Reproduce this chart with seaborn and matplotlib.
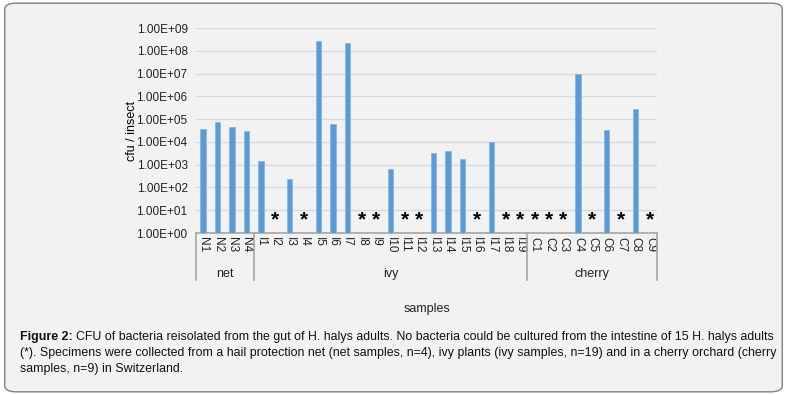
import numpy as np
import pandas as pd
import matplotlib
matplotlib.use("Agg")
import matplotlib.pyplot as plt
import seaborn as sns
from matplotlib.patches import FancyBboxPatch
from matplotlib.ticker import FixedLocator, FuncFormatter

# data (NaN = nothing cultured, marked with *)
net_names = ["N1", "N2", "N3", "N4"]
net_cfu = [3.6e4, 7.6e4, 4.5e4, 3.0e4]

ivy_names = ["I%d" % i for i in range(1, 20)]
ivy_cfu = [1.4e3, np.nan, 2.3e2, np.nan, 2.6e8, 6.4e4, 2.2e8, np.nan, np.nan, 6.8e2,
           np.nan, np.nan, 3.4e3, 4.0e3, 1.7e3, np.nan, 9.8e3, np.nan, np.nan]

cherry_names = ["C%d" % i for i in range(1, 10)]
cherry_cfu = [np.nan, np.nan, np.nan, 9.8e6, np.nan, 3.3e4, np.nan, 2.9e5, np.nan]

groups = ["net", "ivy", "cherry"]

df = pd.DataFrame({
    "sample": net_names + ivy_names + cherry_names,
    "cfu": net_cfu + ivy_cfu + cherry_cfu,
    "group": ["net"] * 4 + ["ivy"] * 19 + ["cherry"] * 9,
})

plt.rcParams["font.family"] = ["Liberation Sans", "DejaVu Sans"]

fig = plt.figure(figsize=(7.87, 3.95), dpi=100, facecolor="white")

# rounded frame behind everything
frame = FancyBboxPatch((0.006, 0.008), 0.988, 0.984, boxstyle="round,pad=0,rounding_size=0.015",
                       transform=fig.transFigure, facecolor="#f2f2f2", edgecolor="#808080",
                       linewidth=1.0, zorder=-5)
fig.patches.append(frame)

ax = fig.add_axes([0.249, 0.410, 0.586, 0.519])
ax.set_zorder(2)
ax.set_facecolor("none")

plot_df = df.fillna(0)
sns.barplot(data=plot_df, x="sample", y="cfu", order=df["sample"], color="#5b9bd5",
            width=0.38, edgecolor="#8ab6e2", linewidth=0.6, saturation=1, ax=ax, zorder=3)
ax.set_yscale("log")
ax.set_ylim(1, 1e9)
ax.set_xlim(-0.5, len(df) - 0.5)

ax.yaxis.set_major_locator(FixedLocator([10.0 ** k for k in range(10)]))
ax.yaxis.set_minor_locator(FixedLocator([]))
ax.yaxis.set_major_formatter(FuncFormatter(lambda v, p: f"{v:.2E}"))
ax.grid(axis="y", color="#d9d9d9", linewidth=1.0, zorder=0)
ax.set_axisbelow(True)
ax.tick_params(axis="y", length=0, labelsize=8.5, pad=6, colors="#222222")
ax.tick_params(axis="x", length=0, labelsize=8.5, pad=3, colors="#222222")
plt.setp(ax.get_xticklabels(), rotation=-90, va="top", ha="center")

for side in ["left", "right", "top"]:
    ax.spines[side].set_visible(False)
ax.spines["bottom"].set_color("#a6a6a6")
ax.spines["bottom"].set_linewidth(1.2)

ax.set_xlabel("")
ax.set_ylabel("cfu / insect", fontsize=9, labelpad=-1)

# stars for samples without bacteria
for i, v in enumerate(df["cfu"]):
    if np.isnan(v):
        ax.text(i, 3.6, "*", ha="center", va="center", fontsize=15, fontweight="bold",
                color="black", zorder=4)

# group separators and group labels below the category axis
trans = ax.get_xaxis_transform()
sizes = [len(net_names), len(ivy_names), len(cherry_names)]
edges = np.concatenate([[0], np.cumsum(sizes)]) - 0.5
for e in edges:
    ax.plot([e, e], [0, -0.229], transform=trans, color="#a6a6a6", linewidth=1.2, clip_on=False)
for g, a, b in zip(groups, edges[:-1], edges[1:]):
    ax.text((a + b) / 2, -0.20, g, transform=trans, ha="center", va="center", fontsize=9,
            color="#222222")
ax.text(0.5, -0.37, "samples", transform=ax.transAxes, ha="center", va="center", fontsize=9,
        color="#222222")

# caption
cap_x = 20 / 787
fsz = 8.9
t1 = fig.text(cap_x, 1 - 337 / 395, "Figure 2:", fontsize=fsz, fontweight="bold", va="center",
              color="#111111")
fig.canvas.draw()
bb = t1.get_window_extent(fig.canvas.get_renderer())
fig.text(bb.x1 / fig.bbox.width + 3 / 787, 1 - 337 / 395,
         "CFU of bacteria reisolated from the gut of H. halys adults. No bacteria could be cultured from the intestine of 15 H. halys adults",
         fontsize=fsz, va="center", color="#111111")
fig.text(cap_x, 1 - 353 / 395,
         "(*). Specimens were collected from a hail protection net (net samples, n=4), ivy plants (ivy samples, n=19) and in a cherry orchard (cherry",
         fontsize=fsz, va="center", color="#111111")
fig.text(cap_x, 1 - 369 / 395, "samples, n=9) in Switzerland.", fontsize=fsz, va="center",
         color="#111111")

fig.savefig("out.png", dpi=100, facecolor="white")
